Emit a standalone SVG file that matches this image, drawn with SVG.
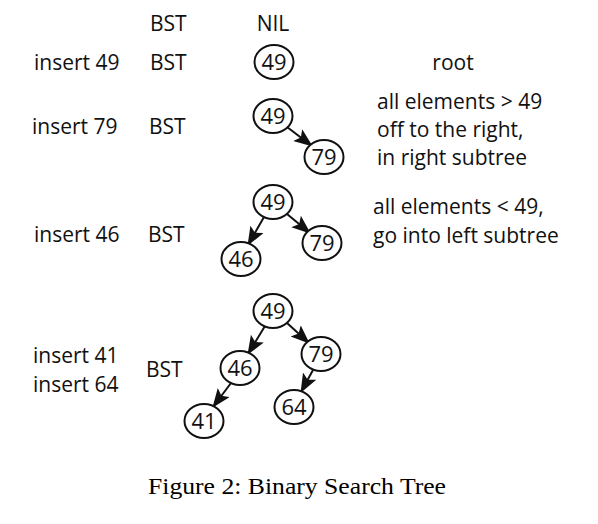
<svg xmlns="http://www.w3.org/2000/svg" width="598" height="524" viewBox="0 0 598 524">
<style>
.t{font-family:"Open Sans","Liberation Sans",sans-serif;font-size:21px;fill:#111}
.n ellipse{fill:#fff;stroke:#111;stroke-width:2}
.n text{font-family:"Open Sans","Liberation Sans",sans-serif;font-size:22px;fill:#111;text-anchor:middle}
.e line{stroke:#111;stroke-width:2;marker-end:url(#ah)}
.cap{font-family:"Liberation Serif","DejaVu Serif",serif;font-size:23px;fill:#000}
</style>
<defs>
<marker id="ah" markerUnits="userSpaceOnUse" markerWidth="20" markerHeight="16" refX="18" refY="7.5" orient="auto">
<path d="M0,0 L19,7.5 L0,15 L4,7.5 z" fill="#111"/>
</marker>
</defs>
<rect width="598" height="524" fill="#fff"/>
<g id="labels">
<text class="t" x="150" y="31">BST</text>
<text class="t" x="273" y="31" text-anchor="middle">NIL</text>
<text class="t" x="34" y="70">insert 49</text>
<text class="t" x="150" y="70">BST</text>
<text class="t" x="453" y="70" text-anchor="middle">root</text>
<text class="t" x="32" y="134">insert 79</text>
<text class="t" x="149" y="134">BST</text>
<text class="t" x="377" y="109">all elements &gt; 49</text>
<text class="t" x="377" y="137">off to the right,</text>
<text class="t" x="377" y="165">in right subtree</text>
<text class="t" x="373" y="214">all elements &lt; 49,</text>
<text class="t" x="373" y="243">go into left subtree</text>
<text class="t" x="34" y="242">insert 46</text>
<text class="t" x="148" y="242">BST</text>
<text class="t" x="33" y="363">insert 41</text>
<text class="t" x="33" y="392">insert 64</text>
<text class="t" x="146" y="377">BST</text>
<text class="cap" x="148" y="494" textLength="298" lengthAdjust="spacingAndGlyphs">Figure 2: Binary Search Tree</text>
</g>
<g id="connectors" class="e">
<line x1="287" y1="127" x2="312" y2="146"/>
<line x1="264" y1="217" x2="248" y2="245"/>
<line x1="287" y1="214" x2="310" y2="233"/>
<line x1="265" y1="326" x2="248" y2="354"/>
<line x1="287" y1="323" x2="309" y2="343"/>
<line x1="231" y1="383" x2="213" y2="407"/>
<line x1="313" y1="370" x2="301" y2="392"/>
</g>
<g id="n1-49" class="n"><ellipse cx="274" cy="62" rx="19.5" ry="17"/><text x="274" y="70">49</text></g>
<g id="n2-49" class="n"><ellipse cx="273" cy="116" rx="19.5" ry="17"/><text x="273" y="124">49</text></g>
<g id="n2-79" class="n"><ellipse cx="324" cy="157" rx="19.5" ry="17"/><text x="324" y="165">79</text></g>
<g id="n3-49" class="n"><ellipse cx="273" cy="202" rx="19.5" ry="17"/><text x="273" y="210">49</text></g>
<g id="n3-46" class="n"><ellipse cx="241" cy="259" rx="19.5" ry="17"/><text x="241" y="267">46</text></g>
<g id="n3-79" class="n"><ellipse cx="322" cy="243" rx="19.5" ry="17"/><text x="322" y="251">79</text></g>
<g id="n4-49" class="n"><ellipse cx="273" cy="311" rx="19.5" ry="17"/><text x="273" y="319">49</text></g>
<g id="n4-46" class="n"><ellipse cx="240" cy="368" rx="19.5" ry="17"/><text x="240" y="376">46</text></g>
<g id="n4-79" class="n"><ellipse cx="321" cy="354" rx="19.5" ry="17"/><text x="321" y="362">79</text></g>
<g id="n4-41" class="n"><ellipse cx="204" cy="421" rx="19.5" ry="17"/><text x="204" y="429">41</text></g>
<g id="n4-64" class="n"><ellipse cx="294" cy="407" rx="19.5" ry="17"/><text x="294" y="415">64</text></g>
</svg>
